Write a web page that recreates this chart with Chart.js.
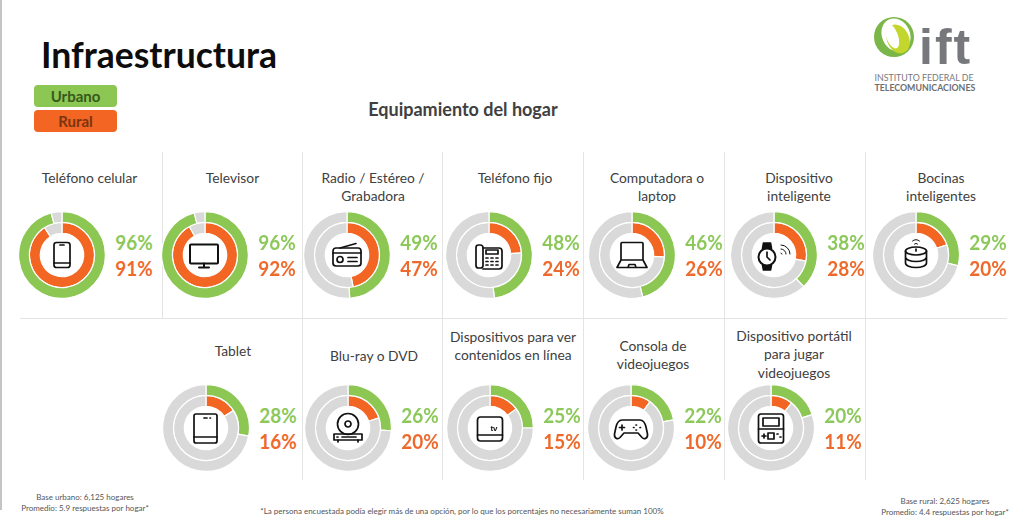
<!DOCTYPE html>
<html lang="es">
<head>
<meta charset="utf-8">
<title>Infraestructura</title>
<script src="https://cdn.jsdelivr.net/npm/chart.js@4"></script>
<style>
html, body { margin: 0; padding: 0; background: #fff; }
body { width: 1024px; height: 521px; position: relative; overflow: hidden; font-family: Lato, sans-serif; color: #404040; }
.abs { position: absolute; }
.edge { left: 0; top: 0; width: 2px; height: 510px; background: #c4c4c4; }
.vline { width: 1px; background: #e4e4e4; }
.hline { height: 1px; background: #e4e4e4; }
h1 { position: absolute; left: 41px; top: 33px; margin: 0; font-size: 35.5px; line-height: 44px; font-weight: 700; color: #0d0d0d; }
.key { left: 34px; width: 83px; height: 22px; border-radius: 4px; text-align: center; font-weight: 700; font-size: 15px; line-height: 22px; }
.subtitle { left: 263px; width: 400px; top: 98px; text-align: center; font-size: 18px; line-height: 22px; font-weight: 700; color: #404040; }
.label { width: 160px; text-align: center; white-space: pre-line; font-size: 13.8px; line-height: 18.6px; color: #404040; }
.pct { width: 60px; text-align: center; font-size: 21px; line-height: 24px; font-weight: 700; transform: scaleX(.9); }
.donut { width: 90px; height: 90px; }
.note { text-align: center; font-size: 8px; line-height: 10.5px; color: #555; white-space: pre-line; }
svg.icon { position: absolute; width: 44px; height: 44px; overflow: visible; fill: none; stroke: #111; stroke-width: 1.7; stroke-linejoin: round; stroke-linecap: round; }
</style>
</head>
<body>
<div class="abs edge"></div>
<h1>Infraestructura</h1>
<div class="abs key" style="top:85px;background:#8cc653;color:#37591c">Urbano</div>
<div class="abs key" style="top:110px;background:#f26522;color:#7a3410">Rural</div>
<div class="abs subtitle">Equipamiento del hogar</div>

<svg class="abs" style="left:870px;top:15px" width="110" height="80" viewBox="0 0 110 80">
  <circle cx="24" cy="22" r="20" fill="#7ab648"/>
  <ellipse cx="26" cy="20" rx="14" ry="17" fill="#fff" transform="rotate(-25 26 20)"/>
  <ellipse cx="28" cy="24" rx="11" ry="15" fill="#c2d62e" transform="rotate(-25 28 24)"/>
  <ellipse cx="22" cy="21" rx="6" ry="13" fill="#fff" transform="rotate(-20 22 21)"/>
  <text x="49" y="49" font-family="Liberation Sans" font-weight="700" font-size="50" letter-spacing="2" fill="#77787b">ift</text>
  <text x="4.500" y="66" font-family="Lato" font-size="8.800" fill="#77787b">INSTITUTO FEDERAL DE</text>
  <text x="4.500" y="76" font-family="Lato" font-size="8.800" font-weight="700" fill="#6d6e71">TELECOMUNICACIONES</text>
</svg>

<div class="abs note" style="left:5px;width:160px;top:492px">Base urbano: 6,125 hogares
Promedio: 5.9 respuestas por hogar*</div>
<div class="abs note" style="left:162px;width:600px;top:506px">*La persona encuestada podía elegir más de una opción, por lo que los porcentajes no necesariamente suman 100%</div>
<div class="abs note" style="left:865px;width:160px;top:496px">Base rural: 2,625 hogares
Promedio: 4.4 respuestas por hogar*</div>

<script>
const categories = [
    'Teléfono celular', 'Televisor', 'Radio / Estéreo /\nGrabadora', 'Teléfono fijo',
    'Computadora o\nlaptop', 'Dispositivo\ninteligente', 'Bocinas\ninteligentes',
    'Tablet', 'Blu-ray o DVD', 'Dispositivos para ver\ncontenidos en línea',
    'Consola de\nvideojuegos', 'Dispositivo portátil\npara jugar\nvideojuegos'
];
const urbano = [96, 96, 49, 48, 46, 38, 29, 28, 26, 25, 22, 20];
const rural = [91, 92, 47, 24, 26, 28, 20, 16, 20, 15, 10, 11];

const GREEN = '#8cc653';
const ORANGE = '#f26522';
const GRAY = '#d9d9d9';

// Layout, separate from the data
const centerX = [62, 204.5, 346.5, 489, 631.5, 774, 916, 206, 348, 490, 631, 771];
const centerY = [254.5, 254.5, 254.5, 254.5, 254.5, 254.5, 254.5, 428, 428, 428, 428, 428];
const labelX = [89.5, 232.5, 373, 515, 657, 799, 941, 233, 374, 513, 653, 794];
const labelY = [178, 178, 178, 178, 178, 178, 178, 351, 356, 337, 346, 336];
const verticals = [[162, 152, 318], [302, 152, 480], [442, 152, 480], [583, 152, 480], [724, 152, 480], [865, 152, 480]];

const icons = [
    // celular
    '<rect x="-8" y="-12.5" width="16" height="25" rx="2.5"/><path d="M-2-10h4M-8 8h16"/>',
    // televisor
    '<rect x="-15" y="-10.5" width="28" height="19" rx="1" stroke-width="2"/><path d="M-1 8.5v4M-6 12.5h10" stroke-width="2"/>',
    // radio
    '<rect x="-14" y="-7" width="28" height="18" rx="3"/><path d="M-7-7L9-11.5M-14-2h28M1 2.5h9M1 6.5h9"/><circle cx="-7" cy="4.5" r="3"/>',
    // telefono fijo
    '<rect x="-13" y="-10" width="7" height="23" rx="2.5"/><path d="M-6-7h16a3 3 0 0 1 3 3v15a3 3 0 0 1-3 3H-6"/><rect x="-3" y="-5" width="12" height="4"/><path d="M-3 3h2M2 3h2M7 3h2M-3 6.5h2M2 6.5h2M7 6.5h2M-3 10h2M2 10h2M7 10h2"/>',
    // laptop
    '<path d="M-11 5V-11.5a1 1 0 0 1 1-1h20a1 1 0 0 1 1 1V5M-11 5L-15 12.5h30L11 5zM-4 12.5l1-3h6l1 3"/>',
    // reloj inteligente
    '<circle cx="-7" cy="2" r="8.5" stroke-width="2"/><path d="M-7-3v5l3 3"/><path d="M-11.5-6l1-6h7l1 6M-11.5 10l1 5h7l1-5" fill="#111"/><path d="M7-6a5 5 0 0 1 5 5M7-10a9 9 0 0 1 9 9M7-2a1 1 0 0 1 1 1" stroke-width="1"/>',
    // bocina
    '<ellipse cx="0" cy="-4" rx="10.5" ry="4"/><path d="M-10.5-4V8c0 2.5 4.7 4.500 10.500 4.500S10.500 10.500 10.500 8V-4M-10.500 2c0 2.500 4.700 4.500 10.500 4.500S10.500 4.500 10.500 2M0-6v2"/><path d="M-1.500-11a2.200 2.200 0 0 1 3 0M-3.500-14a5 5 0 0 1 7 0" stroke-width="1"/>',
    // tablet
    '<rect x="-12" y="-14" width="23" height="29" rx="2"/><path d="M-12 9h23M-2-10h3M4-10h.5"/>',
    // blu-ray
    '<circle cx="0" cy="-4" r="10.500"/><circle cx="0" cy="-4" r="3"/><rect x="-14" y="6" width="28" height="6"/><path d="M-11 9h1M-6 9h14M-10 12v2M10 12v2"/>',
    // apple tv
    '<rect x="-12.500" y="-11" width="25" height="24" rx="3"/><path d="M-12.500 7h25"/><text x="4" y="3" text-anchor="middle" font-family="Liberation Sans" font-weight="700" font-size="8" fill="#111" stroke="none">tv</text>',
    // control de videojuegos
    '<path d="M-9-8h18c3 0 5 3 6 7l1.500 7c.5 4-3 6-5.500 3.500l-4-4.500h-14l-4 4.500c-2.500 2.500-6 .5-5.500-3.500l1.500-7c1-4 3-7 6-7z"/><path d="M-9-3v5M-11.500-.5h5M5-3h.5M9-.5h.5M5 2h.5M2.500-.5h.5"/>',
    // portatil
    '<rect x="-12.500" y="-14" width="25" height="29" rx="2.500"/><rect x="-8" y="-10" width="16" height="8"/><path d="M-12.500 1h25M-9 8h4M-7 6v4"/><rect x="-3" y="5" width="6" height="6"/><path d="M6 6h1M9 9h1"/>'
];

function addDiv(className, css, text) {
    const el = document.createElement('div');
    el.className = 'abs ' + className;
    el.style.cssText = css;
    if (text) el.textContent = text;
    document.body.appendChild(el);
    return el;
}

// Grid lines
verticals.forEach(v => addDiv('vline', `left:${v[0]}px;top:${v[1]}px;height:${v[2] - v[1]}px`));
addDiv('hline', 'left:20px;top:318px;width:987px');

function drawDonut(i) {
    const cx = centerX[i], cy = centerY[i];
    const box = addDiv('donut', `left:${cx - 45}px;top:${cy - 45}px`);
    const canvas = document.createElement('canvas');
    box.appendChild(canvas);

    new Chart(canvas, {
        type: 'doughnut',
        data: {
            labels: ['Sí', 'No'],
            datasets: [
                { label: 'Urbano', data: [urbano[i], 100 - urbano[i]], backgroundColor: [GREEN, GRAY], borderColor: '#fff', borderWidth: 1.2 },
                { label: 'Rural', data: [rural[i], 100 - rural[i]], backgroundColor: [ORANGE, GRAY], borderColor: '#fff', borderWidth: 1.2 }
            ]
        },
        options: {
            responsive: true,
            maintainAspectRatio: false,
            animation: false,
            cutout: '50%',
            layout: { padding: 1 },
            plugins: { legend: { display: false }, tooltip: { enabled: false } }
        }
    });

    addDiv('label', `left:${labelX[i] - 80}px;top:${labelY[i] - 9.3}px`, categories[i]);
    addDiv('pct', `left:${cx + 42}px;top:${cy - 25}px;color:#8cc85a`, urbano[i] + '%');
    addDiv('pct', `left:${cx + 42}px;top:${cy + 1}px;color:#ee6a2c`, rural[i] + '%');

    const icon = document.createElementNS('http://www.w3.org/2000/svg', 'svg');
    icon.setAttribute('class', 'icon');
    icon.setAttribute('viewBox', '-22 -22 44 44');
    icon.style.left = (cx - 22) + 'px';
    icon.style.top = (cy - 22) + 'px';
    icon.innerHTML = icons[i];
    document.body.appendChild(icon);
}

categories.forEach((c, i) => drawDonut(i));
</script>
</body>
</html>
